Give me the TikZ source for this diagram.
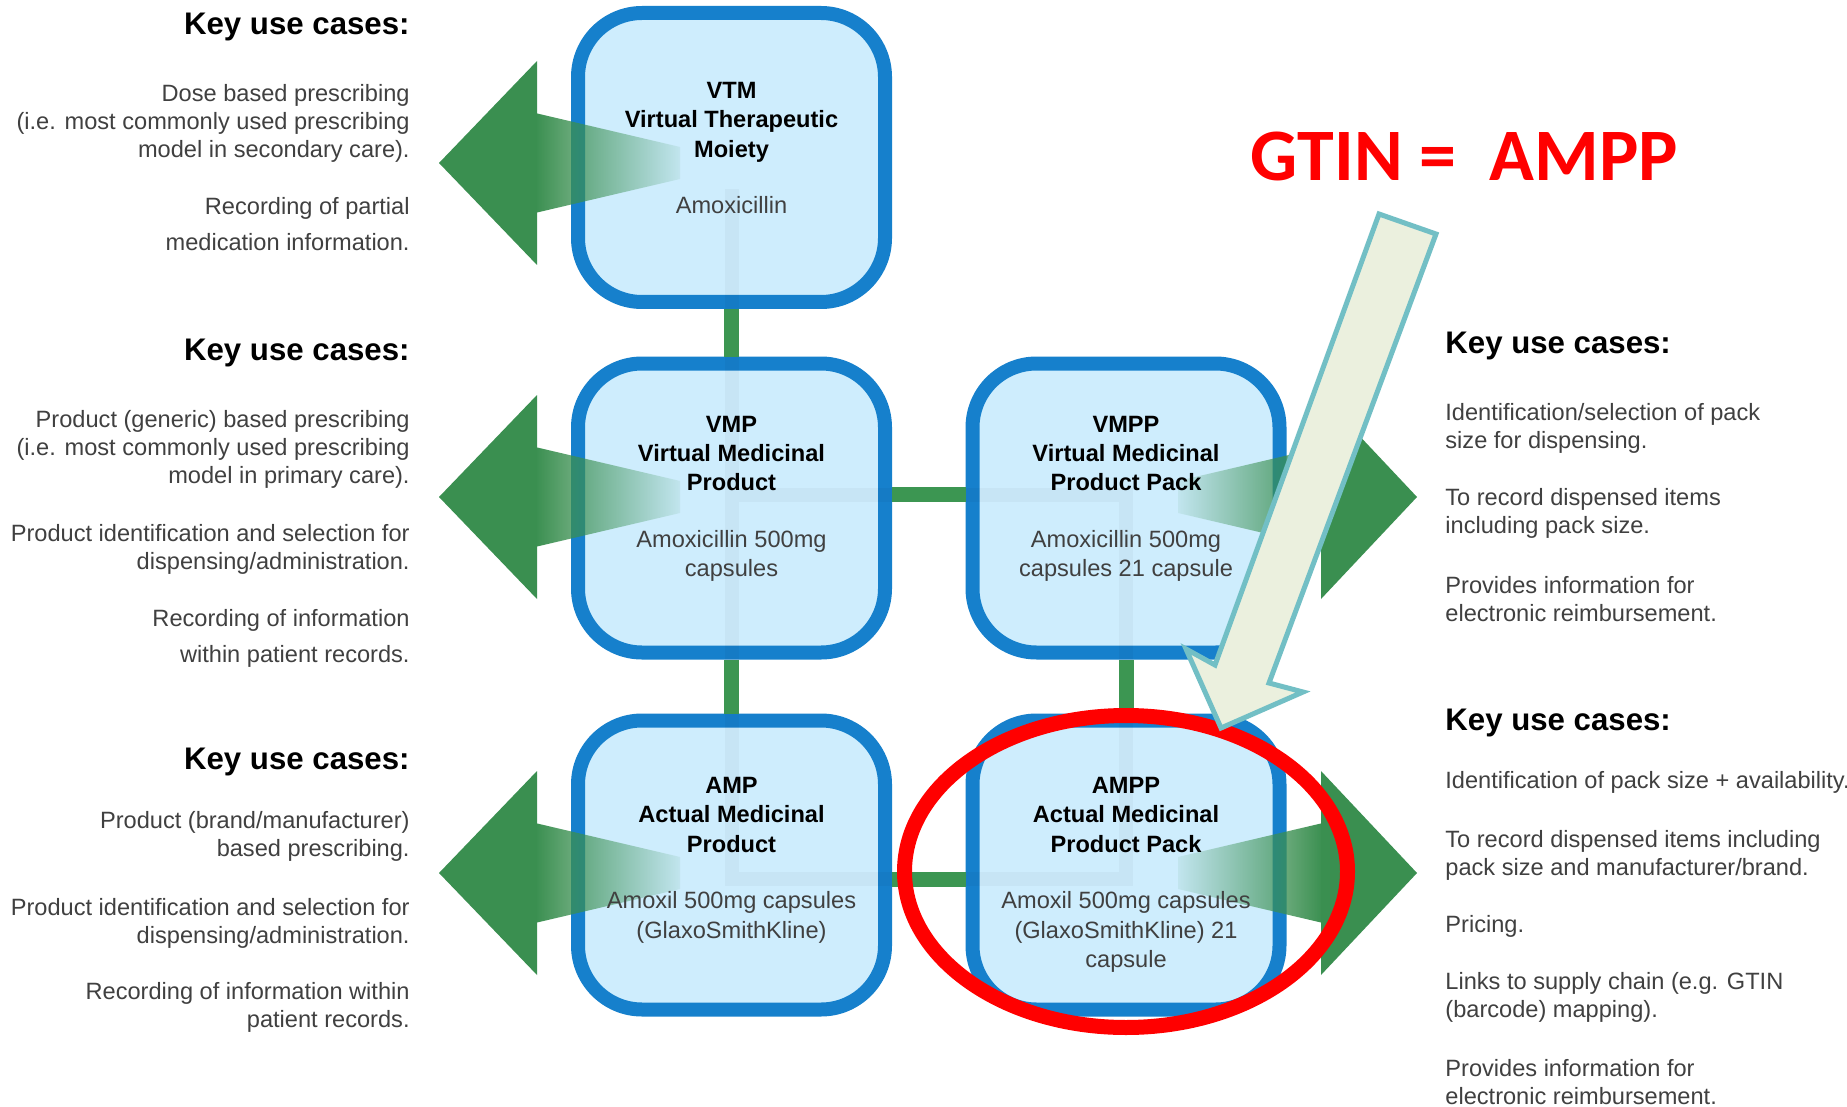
\documentclass[tikz,border=0pt]{standalone}
\usepackage{fontspec}
\setmainfont{Liberation Sans}
\newfontfamily\gtinfont{Carlito}
\usetikzlibrary{fadings}
\definecolor{boxblue}{RGB}{22,128,204}
\definecolor{boxfill}{RGB}{206,237,253}
\definecolor{linkgreen}{RGB}{60,150,82}
\definecolor{arrowgreen}{RGB}{58,143,80}
\definecolor{textgray}{RGB}{64,64,64}
\definecolor{gtinred}{RGB}{255,0,0}
\definecolor{paleline}{RGB}{114,191,197}
\definecolor{palefill}{RGB}{235,240,222}
\tikzfading[name=fade shaft right, left color=transparent!0, right color=transparent!92]
\tikzfading[name=fade shaft left, left color=transparent!92, right color=transparent!0]
\newcommand{\bhead}[1]{\textcolor{black}{\textbf{#1}}}

\begin{document}
\begin{tikzpicture}[x=0.5pt, y=-0.5pt,
    box/.style={draw=boxblue, line width=7pt, fill=boxfill, rounded corners=32pt,
        minimum width=153.5pt, minimum height=144.5pt, inner sep=0pt},
    boxtext/.style={anchor=north, align=center, inner sep=0pt, text=textgray,
        font=\fontsize{11.8}{14.65}\selectfont},
    usehead/.style={inner sep=0pt, text=black, font=\fontsize{15.6}{18}\selectfont\bfseries},
    usecase/.style={inner sep=0pt, text=textgray, font=\fontsize{11.8}{14}\selectfont},
    useleft/.style={usecase, anchor=north east, align=right},
    useright/.style={usecase, anchor=north west, align=left},
    link/.style={draw=linkgreen, line width=7.5pt},
    ghost/.style={draw=black, draw opacity=0.03, line width=7pt},
    ring/.style={draw=gtinred, line width=7.5pt},
    pointer/.style={draw=paleline, fill=palefill, line width=2.5pt, line join=miter}]
        \path[use as bounding box, fill=white] (0,0) rectangle (1847,1107);
        % Boxes
        \node[box] (vtm) at (731.5,157.5) {};
        \node[box] (vmp) at (731.5,508) {};
        \node[box] (vmpp) at (1126,508) {};
        \node[box] (amp) at (731.5,865) {};
        \node[box] (ampp) at (1126,865) {};
        % Faint grid behind the boxes
        \draw[ghost] ([yshift=-16pt]vtm.center) -- ([yshift=-7pt]amp.center)
            -- ([yshift=-7pt]ampp.center) -- ([yshift=6.75pt]vmpp.center) -- ([yshift=6.75pt]vmp.center);
        % Links
        \draw[link] (vtm) -- (vmp);
        \draw[link] (vmp) -- (amp);
        \draw[link] (vmpp) -- (ampp);
        \draw[link] ([yshift=6.75pt]vmp.east) -- ([yshift=6.75pt]vmpp.west);
        \draw[link] ([yshift=-7pt]amp.east) -- ([yshift=-7pt]ampp.west);
        % Green arrows
        \foreach \y in {163,497,873} {
            \fill[arrowgreen] (439,\y) -- (537,\y-102) -- (537,\y+102) -- cycle;
            \fill[arrowgreen, path fading=fade shaft right] (535,\y-50) -- (680,\y-16) -- (680,\y+16) -- (535,\y+50) -- cycle;
        }
        \foreach \y in {497,873} {
            \fill[arrowgreen] (1417,\y) -- (1321,\y-102) -- (1321,\y+102) -- cycle;
            \fill[arrowgreen, path fading=fade shaft left] (1323,\y-50) -- (1178,\y-16) -- (1178,\y+16) -- (1323,\y+50) -- cycle;
        }
        % Box texts
        \node[boxtext] (vtmtext) at (731.5,82) {\bhead{VTM}\\\bhead{Virtual Therapeutic}\\\bhead{Moiety}\\[13.6pt]Amoxicillin};
        \node[boxtext] (vmptext) at (731.5,415.5) {\bhead{VMP}\\\bhead{Virtual Medicinal}\\\bhead{Product}\\[13.6pt]Amoxicillin 500mg\\capsules};
        \node[boxtext] (vmpptext) at (1126,415.5) {\bhead{VMPP}\\\bhead{Virtual Medicinal}\\\bhead{Product Pack}\\[13.6pt]Amoxicillin 500mg\\capsules 21 capsule};
        \node[boxtext] (amptext) at (731.5,777) {\bhead{AMP}\\\bhead{Actual Medicinal}\\\bhead{Product}\\[13.6pt]Amoxil 500mg capsules\\(GlaxoSmithKline)};
        \node[boxtext] (ampptext) at (1126,777) {\bhead{AMPP}\\\bhead{Actual Medicinal}\\\bhead{Product Pack}\\[13.6pt]Amoxil 500mg capsules\\(GlaxoSmithKline) 21\\capsule};
        % Left use cases
        \node[usehead, anchor=north east] (vtmhead) at (410,13) {Key use cases:};
        \node[useleft] (vtmuse1) at (410,84) {Dose based prescribing\\(i.e. most commonly used prescribing\\model in secondary care).};
        \node[useleft] (vtmuse2) at (410,197) {Recording of partial\\[4pt]medication information.};
        \node[usehead, anchor=north east] (vmphead) at (410,339) {Key use cases:};
        \node[useleft] (vmpuse1) at (410,410) {Product (generic) based prescribing\\(i.e. most commonly used prescribing\\model in primary care).};
        \node[useleft] (vmpuse2) at (410,524) {Product identification and selection for\\dispensing/administration.};
        \node[useleft] (vmpuse3) at (410,609) {Recording of information\\[4pt]within patient records.};
        \node[usehead, anchor=north east] (amphead) at (410,748) {Key use cases:};
        \node[useleft] (ampuse1) at (410,811) {Product (brand/manufacturer)\\based prescribing.};
        \node[useleft] (ampuse2) at (410,898) {Product identification and selection for\\dispensing/administration.};
        \node[useleft] (ampuse3) at (410,982) {Recording of information within\\patient records.};
        % Right use cases
        \node[usehead, anchor=north west] (vmpphead) at (1445,332) {Key use cases:};
        \node[useright] (vmppuse1) at (1445,403) {Identification/selection of pack\\size for dispensing.};
        \node[useright] (vmppuse2) at (1445,488) {To record dispensed items\\including pack size.};
        \node[useright] (vmppuse3) at (1445,576) {Provides information for\\electronic reimbursement.};
        \node[usehead, anchor=north west] (ampphead) at (1445,709) {Key use cases:};
        \node[useright] (amppuse1) at (1445,771) {Identification of pack size + availability.};
        \node[useright] (amppuse2) at (1445,830) {To record dispensed items including\\pack size and manufacturer/brand.};
        \node[useright] (amppuse3) at (1445,915) {Pricing.};
        \node[useright] (amppuse4) at (1445,972) {Links to supply chain (e.g. GTIN\\(barcode) mapping).};
        \node[useright] (amppuse5) at (1445,1059) {Provides information for\\electronic reimbursement.};
        % Highlight
        \draw[ring] (1126,871.5) ellipse [x radius=110.75pt, y radius=78pt];
        \draw[pointer] (1379,214) -- (1436,234) -- (1269,683) -- (1303,692) -- (1221,728)
            -- (1186,649) -- (1215,665) -- cycle;
        \node[font=\gtinfont\fontsize{37}{40}\selectfont\bfseries, text=gtinred, anchor=base, inner sep=0pt]
            (gtin) at (1464.5,181) {GTIN = \ AMPP};
    \end{tikzpicture}
\end{document}
